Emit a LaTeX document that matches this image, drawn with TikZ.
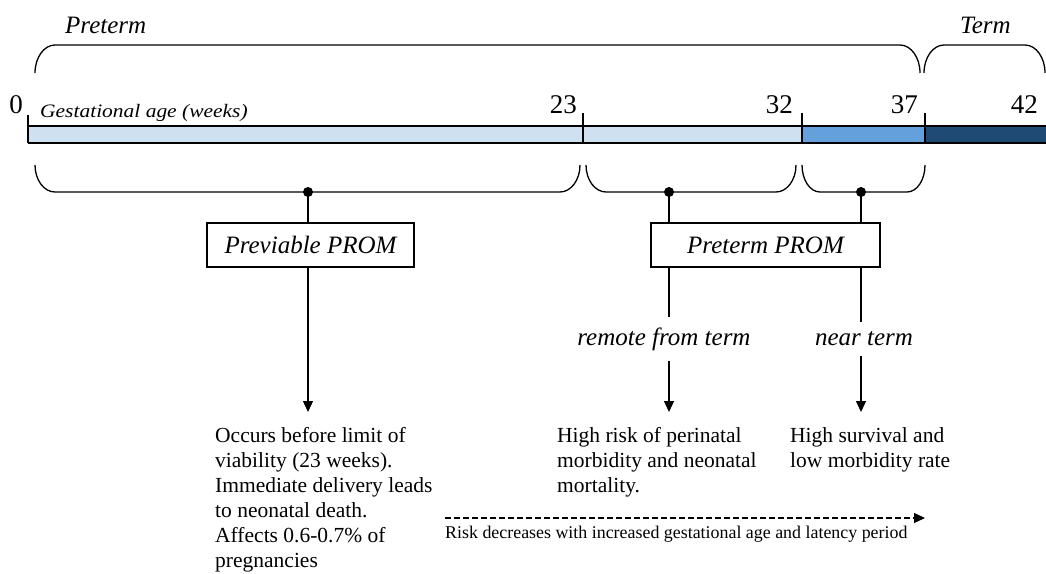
\documentclass[tikz,border=0pt]{standalone}
\usepackage{fontspec}
\setmainfont{Liberation Serif}
\usetikzlibrary{arrows.meta}
\definecolor{barlight}{HTML}{CFE0F1}
\definecolor{barmid}{HTML}{64A0DC}
\definecolor{bardark}{HTML}{1F4A74}
\begin{document}
\begin{tikzpicture}[x=1pt,y=-1pt,
  brace/.style={line width=1.3pt},
  barline/.style={line width=1.8pt},
  conn/.style={line width=1.3pt},
  arr/.style={line width=1.3pt,-{Triangle[length=11pt,width=10pt]}},
  boxnode/.style={draw,line width=1.2pt,minimum height=44pt,inner sep=0pt,font=\fontsize{25}{30}\selectfont\itshape},
  bignum/.style={inner sep=0pt,font=\fontsize{27}{32}\selectfont},
  toplabel/.style={inner sep=0pt,font=\fontsize{25}{30}\selectfont\itshape},
  midlabel/.style={inner sep=0pt,inner ysep=10pt,font=\fontsize{25}{30}\selectfont\itshape},
  bodytext/.style={inner sep=0pt,align=left,anchor=north west,font=\fontsize{21.5}{25}\selectfont},
  smalltext/.style={inner sep=0pt,font=\fontsize{17.9}{21}\selectfont},
  dot/.style={circle,fill,inner sep=0pt,minimum size=10pt}]
\useasboundingbox (0,0) rectangle (1046,573);
\fill[white] (0,0) rectangle (1046,573);

% labels above
\node[toplabel,anchor=base west] (pretermlab) at (65,33) {Preterm};
\node[toplabel,anchor=base west] (termlab) at (960,33) {Term};

% top braces
\draw[brace] (35,73) .. controls +(0,-15.5) and +(-11,0) .. ++(20,-28) -- (900,45)
  .. controls +(11,0) and +(0,-15.5) .. ++(20,28);
\draw[brace] (924,73) .. controls +(0,-15.5) and +(-11,0) .. ++(20,-28) -- (1025,45)
  .. controls +(11,0) and +(0,-15.5) .. ++(20,28);

% bar
\fill[barlight] (28,126) rectangle (802,143);
\fill[barmid] (802,126) rectangle (925,143);
\fill[bardark] (925,126) rectangle (1046,143);
\draw[barline] (28,126) -- (1046,126);
\draw[barline] (28,143) -- (1046,143);
\draw[barline] (28,115) -- (28,143);
\draw[barline] (583,113) -- (583,143);
\draw[barline] (802,113) -- (802,143);
\draw[barline] (925,113) -- (925,143);

% numbers
\node[bignum,anchor=base east] (n0) at (23,113) {0};
\node[bignum,anchor=base east] (n23) at (577,113) {23};
\node[bignum,anchor=base east] (n32) at (793,113) {32};
\node[bignum,anchor=base east] (n37) at (918,113) {37};
\node[bignum,anchor=base east] (n42) at (1038,113) {42};
\node[inner sep=0pt,anchor=base west,font=\fontsize{19}{22}\selectfont\itshape] (galab) at (40,117) {\scalebox{1.13}[1]{Gestational age (weeks)}};

% bottom braces
\draw[brace] (35,165) .. controls +(0,15) and +(-11,0) .. ++(20,27) -- (560,192)
  .. controls +(11,0) and +(0,15) .. ++(20,-27);
\draw[brace] (586,165) .. controls +(0,15) and +(-11,0) .. ++(20,27) -- (776,192)
  .. controls +(11,0) and +(0,15) .. ++(20,-27);
\draw[brace] (802,165) .. controls +(0,15) and +(-10,0) .. ++(18,27) -- (907,192)
  .. controls +(10,0) and +(0,15) .. ++(18,-27);

% dots
\node[dot] (d1) at (308,192) {};
\node[dot] (d2) at (669,192) {};
\node[dot] (d3) at (861,192) {};

% boxes
\node[boxnode,minimum width=207pt] (prev) at (310.5,245) {Previable PROM};
\node[boxnode,minimum width=229pt] (pret) at (765.5,245) {Preterm PROM};

% mid labels
\node[midlabel] (remote) at (664,339) {remote from term};
\node[midlabel] (near) at (864,339) {near term};

% end points
\coordinate (a1) at (308,412);
\coordinate (a2) at (669,412);
\coordinate (a3) at (861,412);

% connectors
\draw[conn] (d1.center) -- (prev.north -| d1);
\draw[arr] (prev.south -| d1) -- (a1);
\draw[conn] (d2.center) -- (pret.north -| d2);
\draw[conn] (pret.south -| d2) -- (remote.north -| d2);
\draw[arr] (remote.south -| d2) -- (a2);
\draw[conn] (d3.center) -- (pret.north -| d3);
\draw[conn] (pret.south -| d3) -- (near.north -| d3);
\draw[arr] (near.south -| d3) -- (a3);

% bottom texts
\node[bodytext] (t1) at (215,427) {Occurs before limit of\\viability (23 weeks).\\Immediate delivery leads\\to neonatal death.\\Affects 0.6-0.7\% of\\pregnancies};
\node[bodytext] (t2) at (557,427) {High risk of perinatal\\morbidity and neonatal\\mortality.};
\node[bodytext] (t3) at (790,427) {High survival and\\low morbidity rate};

% risk arrow
\coordinate (r1) at (445,518);
\coordinate (r2) at (925,518);
\draw[line width=1.2pt,dash pattern=on 6pt off 3pt,-{Triangle[length=11pt,width=10pt]}] (r1) -- (r2);
\node[smalltext,anchor=base west] (risk) at (445,538) {Risk decreases with increased gestational age and latency period};
\end{tikzpicture}
\end{document}
